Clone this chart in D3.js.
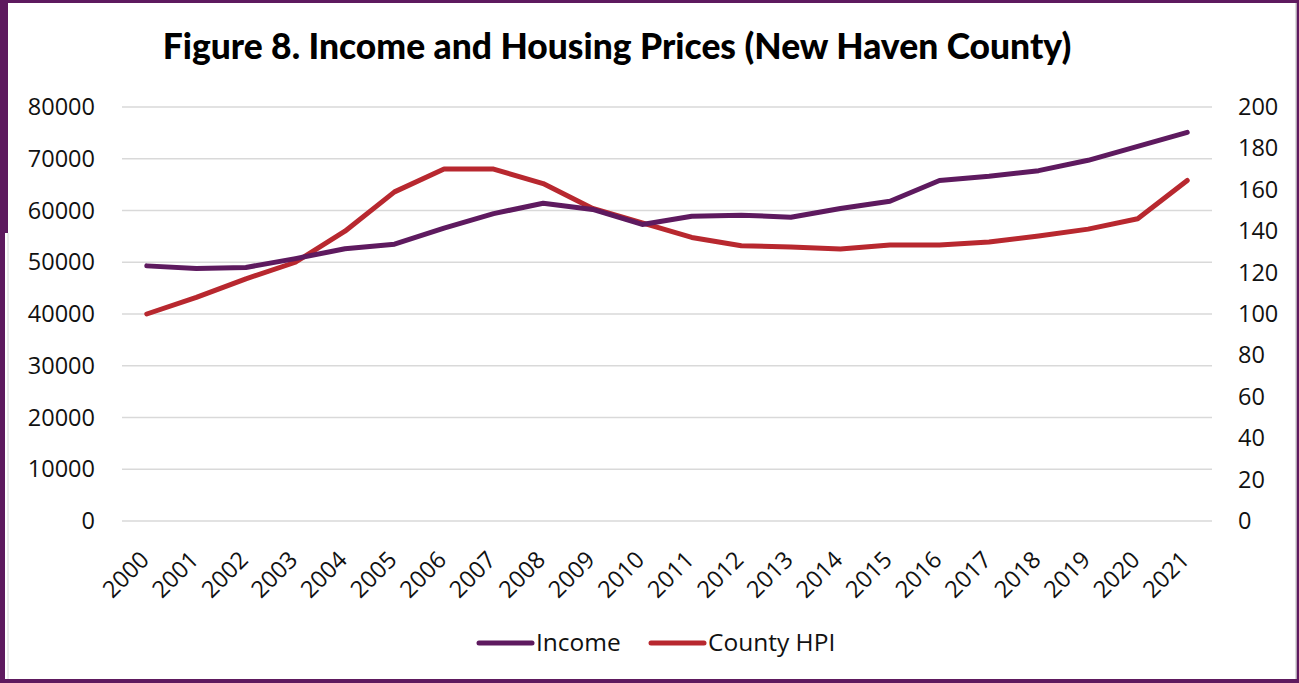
<!DOCTYPE html>
<html>
<head>
<meta charset="utf-8">
<script src="https://cdn.jsdelivr.net/npm/d3@7"></script>
<style>
  html, body { margin: 0; padding: 0; background: #fff; }
  svg { display: block; }
</style>
</head>
<body>
<svg id="chart" width="1299" height="683"></svg>
<script>
const years = ["2000","2001","2002","2003","2004","2005","2006","2007","2008","2009","2010","2011","2012","2013","2014","2015","2016","2017","2018","2019","2020","2021"];
const income = [49300,48800,49000,50700,52600,53500,56600,59400,61400,60200,57300,58900,59100,58700,60400,61800,65800,66600,67700,69700,72400,75100];
const countyHPI = [100,108,117,125,140,159,170,170,163,151,144,137,133,132.4,131.4,133.3,133.3,134.8,137.7,141,146,164.5];
const leftTicks = [0,10000,20000,30000,40000,50000,60000,70000,80000];
const rightTicks = [0,20,40,60,80,100,120,140,160,180,200];
const titleText = "Figure 8. Income and Housing Prices (New Haven County)";
const seriesNames = ["Income", "County HPI"];

const W = 1299, H = 683;
const purple = "#5e1a5f", red = "#b8282f";
const svg = d3.select("#chart");

// frame
svg.append("rect").attr("x",0).attr("y",0).attr("width",W).attr("height",H).attr("fill",purple);
svg.append("rect").attr("x",5).attr("y",3).attr("width",1291).attr("height",676).attr("fill","#fff");
svg.append("rect").attr("x",5).attr("y",3).attr("width",3).attr("height",230).attr("fill",purple);
svg.append("line").attr("x1",8).attr("x2",8).attr("y1",233).attr("y2",679).attr("stroke","#d8d8d8").attr("stroke-width",1);
svg.append("line").attr("x1",1296).attr("x2",1296).attr("y1",3).attr("y2",679).attr("stroke","#d0d0d0").attr("stroke-width",1.5);

const pLeft = 122, pRight = 1212, pTop = 107, pBottom = 521;
const x = d3.scalePoint().domain(years).range([pLeft, pRight]).padding(0.5);
const yL = d3.scaleLinear().domain([0, 80000]).range([pBottom, pTop]);
const yR = d3.scaleLinear().domain([0, 200]).range([pBottom, pTop]);

const font = "'Open Sans', sans-serif";

// gridlines
svg.append("g").selectAll("line").data(leftTicks).join("line")
  .attr("x1", pLeft).attr("x2", pRight)
  .attr("y1", d => yL(d)).attr("y2", d => yL(d))
  .attr("stroke", "#d9d9d9").attr("stroke-width", 1.5);

// left axis
const gL = svg.append("g").attr("transform", `translate(${pLeft},0)`)
  .call(d3.axisLeft(yL).tickValues(leftTicks).tickSize(0).tickPadding(27).tickFormat(d3.format("d")));
gL.select(".domain").remove();
gL.selectAll("text").attr("font-family", font).attr("font-size", 23.5).attr("fill", "#111");

// right axis
const gR = svg.append("g").attr("transform", `translate(${pRight},0)`)
  .call(d3.axisRight(yR).tickValues(rightTicks).tickSize(0).tickPadding(26).tickFormat(d3.format("d")));
gR.select(".domain").remove();
gR.selectAll("text").attr("font-family", font).attr("font-size", 23.5).attr("fill", "#111");

// x axis
const gX = svg.append("g").attr("transform", `translate(0,${pBottom})`)
  .call(d3.axisBottom(x).tickSize(0).tickPadding(0));
gX.select(".domain").remove();
gX.selectAll("text")
  .attr("font-family", font).attr("font-size", 23.5).attr("fill", "#111")
  .attr("text-anchor", "end")
  .attr("dy", null).attr("y", 0)
  .attr("transform", "translate(-11,26) rotate(-45)")
  .attr("dominant-baseline", "hanging");

// lines
const lineL = d3.line().x((d,i) => x(years[i])).y(d => yL(d));
const lineR = d3.line().x((d,i) => x(years[i])).y(d => yR(d));
svg.append("path").datum(countyHPI).attr("d", lineR)
  .attr("fill","none").attr("stroke", red).attr("stroke-width", 5).attr("stroke-linejoin","round").attr("stroke-linecap","round");
svg.append("path").datum(income).attr("d", lineL)
  .attr("fill","none").attr("stroke", purple).attr("stroke-width", 5).attr("stroke-linejoin","round").attr("stroke-linecap","round");

// legend
const legend = [
  {name: seriesNames[0], color: purple, x1: 479, x2: 532, tx: 536},
  {name: seriesNames[1], color: red, x1: 651, x2: 704, tx: 708}
];
const lg = svg.append("g");
legend.forEach(l => {
  lg.append("line").attr("x1", l.x1).attr("x2", l.x2).attr("y1", 643).attr("y2", 643)
    .attr("stroke", l.color).attr("stroke-width", 5).attr("stroke-linecap","round");
  lg.append("text").attr("x", l.tx).attr("y", 651).text(l.name)
    .attr("font-family", font).attr("font-size", 24.5).attr("fill", "#111");
});

// title
const t = svg.append("text").attr("x", 617).attr("y", 59).attr("text-anchor","middle")
  .attr("font-family", "Lato, 'Noto Sans', sans-serif").attr("font-weight", 900)
  .attr("font-size", 32).attr("fill", "#000").text(titleText);
const tw = t.node().getComputedTextLength();
t.attr("font-size", 32 * 909 / tw);
</script>
</body>
</html>
